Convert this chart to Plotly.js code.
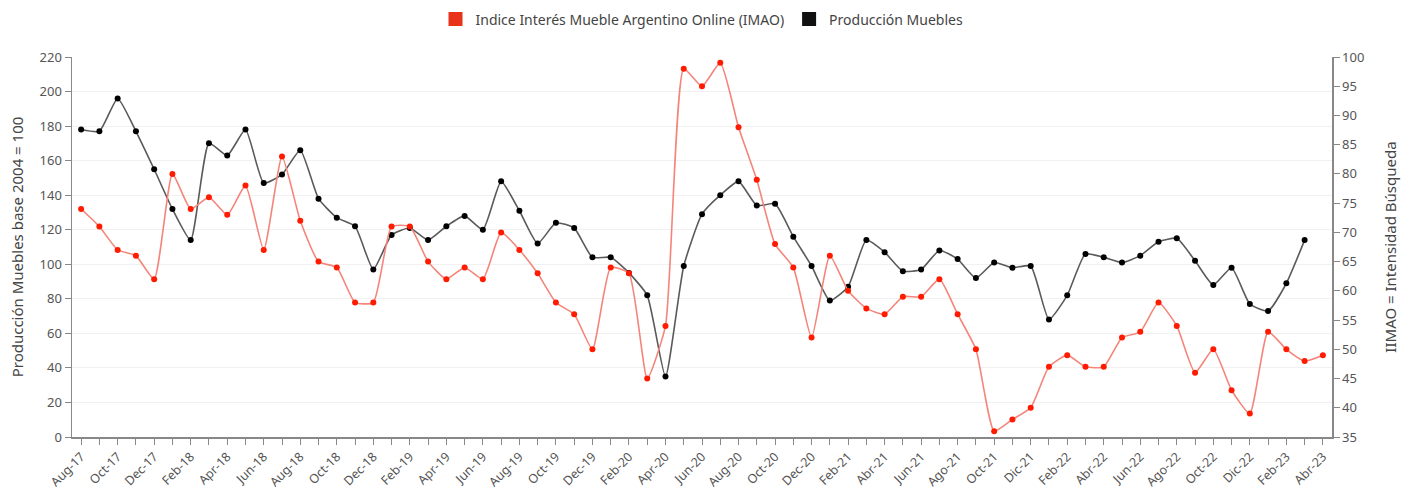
<!DOCTYPE html>
<html>
<head>
<meta charset="utf-8">
<script src="https://cdn.plot.ly/plotly-3.0.1.min.js"></script>
<style>
html,body{margin:0;padding:0;background:#fff;}
#chart{width:1418px;height:495px;}
</style>
</head>
<body>
<div id="chart"></div>
<script>
var months = ["Aug-17","Sep-17","Oct-17","Nov-17","Dec-17","Jan-18","Feb-18","Mar-18","Apr-18","May-18",
  "Jun-18","Jul-18","Aug-18","Sep-18","Oct-18","Nov-18","Dec-18","Jan-19","Feb-19","Mar-19",
  "Apr-19","May-19","Jun-19","Jul-19","Aug-19","Sep-19","Oct-19","Nov-19","Dec-19","Jan-20",
  "Feb-20","Mar-20","Apr-20","May-20","Jun-20","Jul-20","Aug-20","Sep-20","Oct-20","Nov-20",
  "Dec-20","Ene-21","Feb-21","Mar-21","Abr-21","May-21","Jun-21","Jul-21","Ago-21","Sep-21",
  "Oct-21","Nov-21","Dic-21","Ene-22","Feb-22","Mar-22","Abr-22","May-22","Jun-22","Jul-22",
  "Ago-22","Sep-22","Oct-22","Nov-22","Dic-22","Ene-23","Feb-23","Mar-23","Abr-23"];

var produccion = [178,177,196,177,155,132,114,170,163,178,
  147,152,166,138,127,122,97,117,121,114,
  122,128,120,148,131,112,124,121,104,104,
  95,82,35,99,129,140,148,134,135,116,
  99,79,87,114,107,96,97,108,103,92,
  101,98,99,68,82,106,104,101,105,113,
  115,102,88,98,77,73,89,114,null];

var imao = [74,71,67,66,62,80,74,76,73,78,
  67,83,72,65,64,58,58,71,71,65,
  62,64,62,70,67,63,58,56,50,64,
  63,45,54,98,95,99,88,79,68,64,
  52,66,60,57,56,59,59,62,56,50,
  36,38,40,47,49,47,47,52,53,58,
  54,46,50,43,39,53,50,48,49];

var seriesNames = ["Indice Interés Mueble Argentino Online (IMAO)", "Producción Muebles"];
var leftTitle = "Producción Muebles base 2004 = 100";
var rightTitle = "IIMAO = Intensidad Búsqueda";

var tickText = months.map(function(m, i){ return i % 2 === 0 ? m : ""; });

var FONT = "Noto Sans, Open Sans, sans-serif";
var GREY = "#555";

var traces = [
  {
    x: months, y: produccion, name: seriesNames[1], type: "scatter", mode: "lines+markers",
    yaxis: "y", showlegend: false, connectgaps: false,
    line: {color: "#5a5a5a", width: 1.6, shape: "spline", smoothing: 0.5},
    marker: {color: "#000", size: 6}
  },
  {
    x: months, y: imao, name: seriesNames[0], type: "scatter", mode: "lines+markers",
    yaxis: "y2", showlegend: false,
    line: {color: "#f4857a", width: 1.6, shape: "spline", smoothing: 0.5},
    marker: {color: "#ff1a00", size: 6}
  },
  {
    x: [null], y: [null], name: seriesNames[0], type: "scatter", mode: "markers",
    marker: {symbol: "square", size: 14, color: "#e8321a"}, showlegend: true, hoverinfo: "skip"
  },
  {
    x: [null], y: [null], name: seriesNames[1], type: "scatter", mode: "markers",
    marker: {symbol: "square", size: 14, color: "#111"}, showlegend: true, hoverinfo: "skip"
  }
];

var layout = {
  width: 1418, height: 495,
  margin: {l: 72, r: 86, t: 57, b: 58},
  paper_bgcolor: "#fff", plot_bgcolor: "#fff",
  font: {family: FONT, color: GREY, size: 13},
  showlegend: true,
  legend: {
    orientation: "h", x: 0.5, xanchor: "center", yref: "container", y: 0.993, yanchor: "top",
    font: {family: FONT, size: 14, color: "#444"}, itemwidth: 30, tracegroupgap: 0,
    traceorder: "normal"
  },
  xaxis: {
    type: "category", range: [-0.5, months.length - 0.5],
    tickmode: "array", tickvals: months, ticktext: tickText,
    tickangle: -45, tickfont: {size: 12.5, color: GREY},
    ticks: "outside", ticklen: 6, tickcolor: "#888",
    showline: true, linecolor: "#888", linewidth: 1.5,
    showgrid: false, zeroline: false
  },
  yaxis: {
    range: [0, 220], dtick: 20, tick0: 0,
    ticks: "outside", ticklen: 6, tickcolor: "#888",
    showline: true, linecolor: "#888", linewidth: 1.5,
    showgrid: true, gridcolor: "#f1f1f1", gridwidth: 1, zeroline: false,
    tickfont: {size: 13, color: GREY},
    title: {text: leftTitle, font: {size: 15, color: "#444"}, standoff: 12}
  },
  yaxis2: {
    overlaying: "y", side: "right",
    range: [35, 100], dtick: 5, tick0: 35,
    ticks: "outside", ticklen: 6, tickcolor: "#888",
    showline: true, linecolor: "#888", linewidth: 1.5,
    showgrid: false, zeroline: false,
    tickfont: {size: 13, color: GREY},
    title: {text: rightTitle, font: {size: 15, color: "#444"}, standoff: 22}
  }
};

Plotly.newPlot("chart", traces, layout, {displayModeBar: false, staticPlot: true});
</script>
</body>
</html>
